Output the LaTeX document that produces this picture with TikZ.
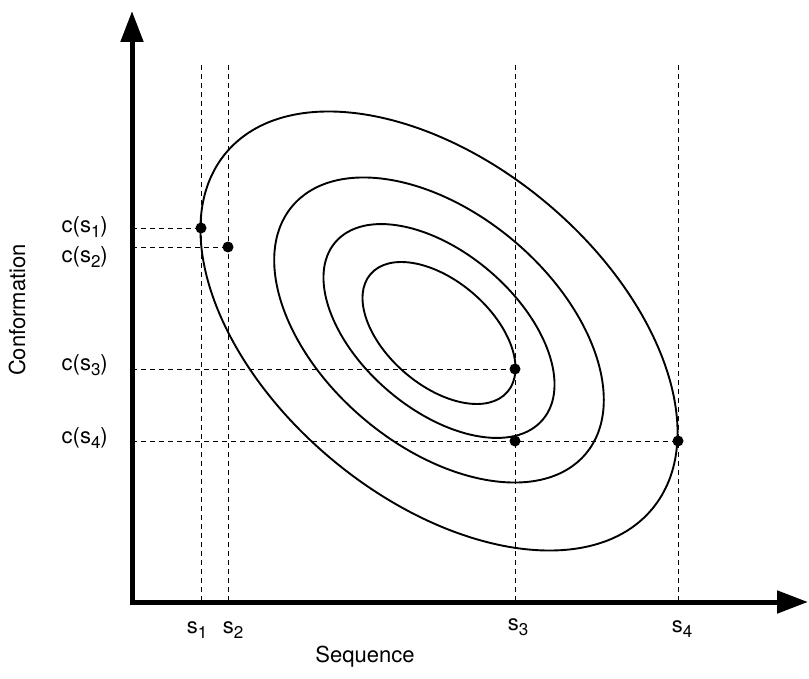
\documentclass[tikz,border=0pt]{standalone}
\usepackage{fontspec}
\setmainfont{TeX Gyre Heros}
\usetikzlibrary{arrows.meta}
\newcommand{\lowsub}[1]{\raisebox{-5pt}{\fontsize{17}{20}\selectfont #1}}
\tikzset{
  axis/.style={line width=5pt,-{Triangle[length=31pt,width=22pt]}},
  guide/.style={line width=0.9pt,dash pattern=on 5pt off 4pt},
  level/.style={line width=1.9pt},
  lbl/.style={font=\fontsize{22}{26}\selectfont,inner sep=0pt}
}
\begin{document}
\begin{tikzpicture}[x=1pt,y=-1pt]
\useasboundingbox (0,0) rectangle (809,679);
{
\coordinate (O) at (132,602);
\coordinate (ytip) at (132,11);
\coordinate (xtip) at (808,602);
\coordinate (T) at (0,65);
\coordinate (p1) at (201,228);
\coordinate (p2) at (228,247);
\coordinate (p3) at (515,369);
\coordinate (p4) at (678,441);
\coordinate (q) at (p3 |- p4);
% contour lines round the centre
\foreach \cy/\ra/\rb/\t in {333/90.3/52.3/40.7,331/136.5/78.4/40.6,330/192/116.4/40.2,331/277.7/167.2/39.9}
  \draw[level,rotate around={-\t:(439,\cy)}] (439,\cy) ellipse [x radius=\ra,y radius=\rb];
% dashed guides
\foreach \p in {p1,p2,p3,p4}{
  \draw[guide] (\p |- T) -- (\p |- O);
  \draw[guide] (O |- \p) -- (\p);
}
\foreach \p in {p1,p2,p3,p4,q}
  \fill (\p) circle (5.5);
% axes
\draw[axis] ([yshift=-2.5pt]O) -- (ytip);
\draw[axis] (O) -- (xtip);
% labels
\node[lbl,anchor=east] (cs1) at (108,227) {c(s\lowsub{1})};
\node[lbl,anchor=east] (cs2) at (108,257) {c(s\lowsub{2})};
\node[lbl,anchor=east] (cs3) at (108,365) {c(s\lowsub{3})};
\node[lbl,anchor=east] (cs4) at (108,438) {c(s\lowsub{4})};
\node[lbl] (s1) at (197,630) {s\lowsub{1}};
\node[lbl] (s2) at (233,630) {s\lowsub{2}};
\node[lbl] (s3) at (518,627) {s\lowsub{3}};
\node[lbl] (s4) at (682,629) {s\lowsub{4}};
\node[lbl] (seq) at (365,657) {Sequence};
\node[lbl,rotate=90] (conf) at (17,310) {Conformation};
}
\end{tikzpicture}
\end{document}
